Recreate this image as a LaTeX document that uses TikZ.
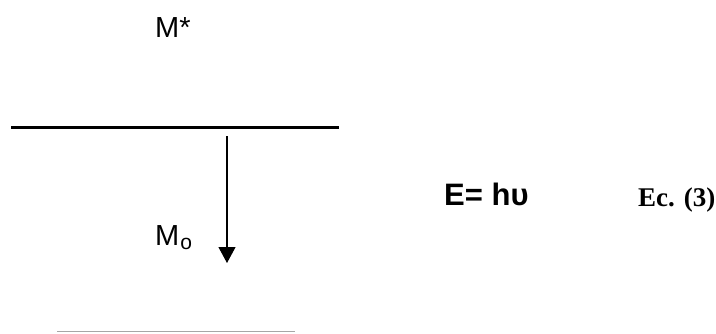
\documentclass[tikz,border=0pt]{standalone}
\usepackage{fontspec}
\setmainfont{Liberation Sans}
\newfontfamily\timesfont{Liberation Serif}
\usetikzlibrary{arrows.meta, calc, positioning}
\definecolor{levelgray}{HTML}{A6A6A6}

\begin{document}
\begin{tikzpicture}[
  x=1pt, y=-1pt,
  lvl/.style = {line width=2.2pt, color=black},
  lvlgray/.style = {line width=1.2pt, color=levelgray},
  arr/.style = {-{Triangle[length=16pt,width=17pt]}, line width=1.2pt},
  statelbl/.style = {font=\fontsize{29}{32}\selectfont, inner sep=0pt, anchor=base west},
  eqlbl/.style = {font=\fontsize{31}{34}\selectfont\bfseries, inner sep=0pt, anchor=base west},
  reflbl/.style = {font=\fontsize{27}{30}\selectfont\timesfont\bfseries, inner sep=0pt, anchor=base west},
]
\useasboundingbox (0,0) rectangle (716,333);
% levels
\coordinate (up1) at (11,127.5);
\coordinate (up2) at (339,127.5);
\coordinate (lo1) at (57,331.5);
\coordinate (lo2) at (295,331.5);
\draw[lvl] (up1) -- (up2);
\draw[lvlgray] (lo1) -- (lo2);
% labels
\node[statelbl] (exc) at (155,37) {M*};
\node[statelbl] (gnd) at (155,245) {M\kern1pt{\fontsize{21}{21}\selectfont\raisebox{-4pt}{o}}};
\node[eqlbl] (eq) at (444,205) {E= hυ};
\node[reflbl] (ref) at (638,206) {Ec. (3)};
% emission
\coordinate (a1) at (227,136);
\coordinate (a2) at (227,263);
\draw[arr] (a1) -- (a2);
\end{tikzpicture}
\end{document}
